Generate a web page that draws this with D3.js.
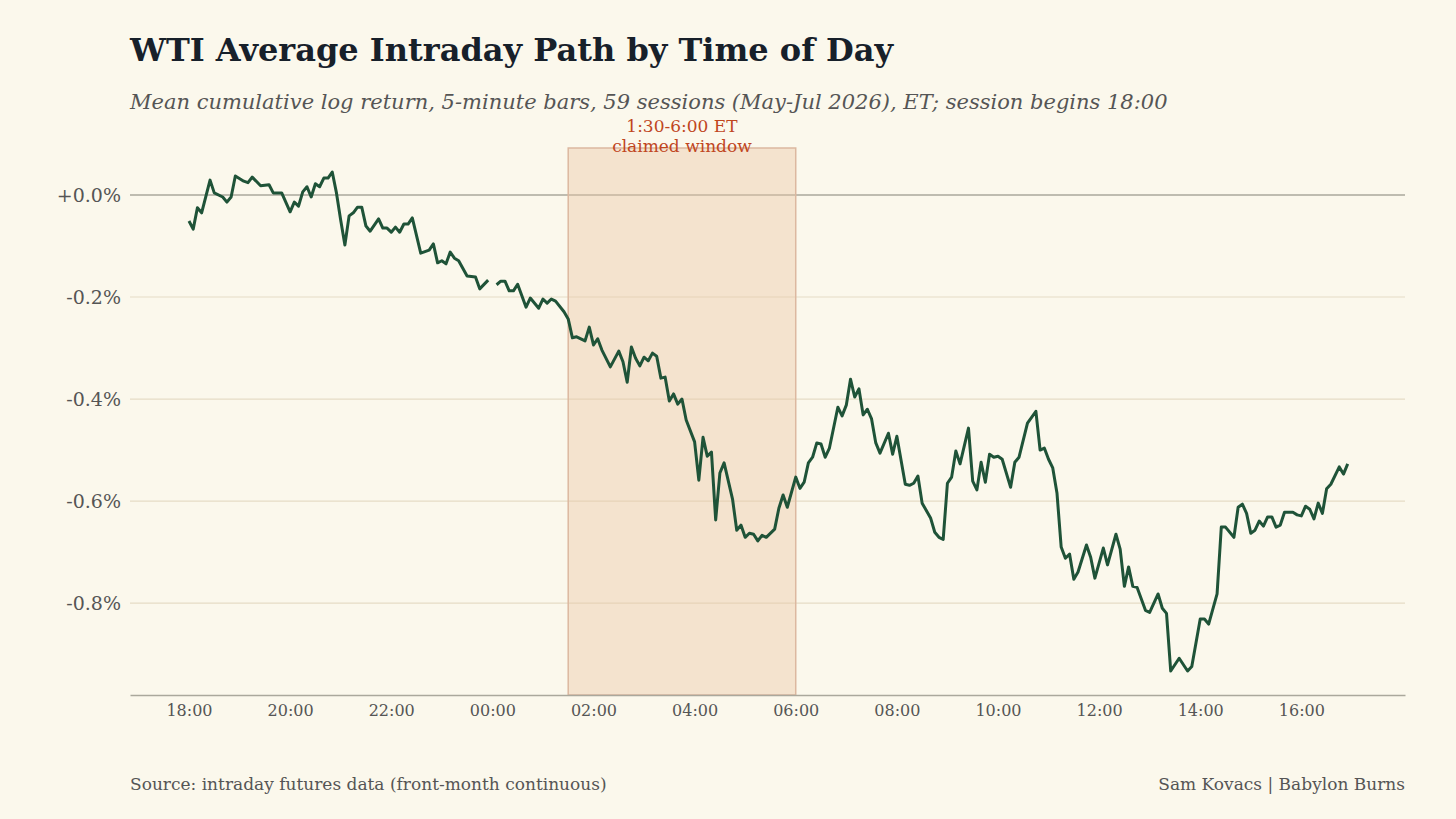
<!DOCTYPE html>
<html>
<head>
<meta charset="utf-8">
<script src="https://cdn.jsdelivr.net/npm/d3@7"></script>
<style>
  body { margin: 0; background: #fbf8ec; }
  text { font-family: "DejaVu Serif", serif; }
</style>
</head>
<body>
<svg id="chart" width="1456" height="819"></svg>
<script>
'use strict';

// 5-minute bar index after 18:00 ET (null return = gap in the data)
let barIndex = [0,1,2,3,5,6,8,9,10,11,13,14,15,17,19,20,22,24,25,26,27,28,29,30,31,32,33,34,35,36,37,38,39,40,41,42,43,45,46,47,48,49,50,51,52,53,55,57,58,59,60,61,62,63,64,66,68,69,71,72,
  73,74,75,76,77,78,80,81,83,84,85,86,87,89,90,91,92,94,95,96,97,98,100,102,103,104,105,106,107,108,109,110,111,112,113,114,115,116,117,118,120,121,122,123,124,125,126,127,129,130,131,132,133,134,135,136,137,139,140,141,142,
  144,145,146,147,148,149,150,151,152,154,155,156,157,158,159,160,161,162,163,164,166,167,168,170,171,172,173,174,176,177,178,179,180,181,182,183,185,186,187,188,189,190,191,192,193,195,196,197,199,201,202,203,204,205,206,
  207,208,209,210,211,213,214,215,217,218,220,221,222,223,224,225,227,228,230,231,232,233,235,237,238,240,241,242,244,245,246,248,249,250,251,252,253,254,255,256,257,258,259,260,262,263,264,265,266,267,268,269,270,271,273,274,275];
// mean cumulative log return, %
let meanReturn = [-0.051,-0.067,-0.025,-0.035,0.029,0.004,-0.004,-0.014,-0.004,0.037,0.027,0.024,0.035,0.018,0.020,0.004,0.004,-0.033,-0.014,-0.022,0.006,0.016,-0.004,0.022,0.016,0.033,0.033,0.045,0.004,-0.049,-0.098,-0.041,-0.035,-0.024,-0.024,-0.061,-0.071,-0.047,-0.065,-0.065,-0.073,-0.063,-0.073,-0.057,-0.057,-0.045,-0.114,-0.108,-0.096,-0.133,-0.129,-0.135,-0.112,-0.124,-0.129,-0.159,-0.161,-0.184,-0.167,null,
  -0.176,-0.169,-0.169,-0.188,-0.188,-0.175,-0.220,-0.202,-0.222,-0.204,-0.212,-0.204,-0.208,-0.229,-0.243,-0.280,-0.278,-0.286,-0.259,-0.294,-0.282,-0.304,-0.337,-0.306,-0.327,-0.367,-0.298,-0.320,-0.335,-0.318,-0.325,-0.310,-0.316,-0.359,-0.357,-0.404,-0.390,-0.410,-0.400,-0.441,-0.484,-0.559,-0.475,-0.512,-0.504,-0.637,-0.545,-0.525,-0.596,-0.657,-0.647,-0.671,-0.663,-0.665,-0.678,-0.667,-0.671,-0.655,-0.614,-0.588,-0.612,
  -0.553,-0.575,-0.563,-0.525,-0.514,-0.486,-0.488,-0.514,-0.496,-0.416,-0.433,-0.412,-0.361,-0.396,-0.380,-0.431,-0.420,-0.439,-0.486,-0.506,-0.467,-0.508,-0.473,-0.567,-0.569,-0.565,-0.551,-0.604,-0.633,-0.661,-0.671,-0.675,-0.565,-0.553,-0.502,-0.527,-0.457,-0.561,-0.578,-0.524,-0.563,-0.508,-0.514,-0.512,-0.518,-0.573,-0.524,-0.514,-0.447,-0.424,-0.500,-0.496,-0.518,-0.535,-0.584,
  -0.690,-0.712,-0.704,-0.753,-0.739,-0.686,-0.710,-0.751,-0.692,-0.725,-0.665,-0.694,-0.767,-0.729,-0.767,-0.769,-0.814,-0.818,-0.782,-0.810,-0.820,-0.933,-0.908,-0.933,-0.924,-0.831,-0.831,-0.841,-0.782,-0.651,-0.651,-0.671,-0.612,-0.606,-0.624,-0.663,-0.657,-0.639,-0.649,-0.631,-0.631,-0.651,-0.647,-0.622,-0.622,-0.627,-0.629,-0.610,-0.616,-0.635,-0.604,-0.624,-0.576,-0.567,-0.533,-0.547,-0.527];

let xTickLabels = ['18:00','20:00','22:00','00:00','02:00','04:00','06:00','08:00','10:00','12:00','14:00','16:00'];
let yTickValues = [0,-0.2,-0.4,-0.6,-0.8];
let windowStart = 7.5;  // hours after 18:00 (01:30)
let windowEnd = 12;     // 06:00

// Formatting
let bg = '#fbf8ec';
let lineColor = '#1f5338';
let gridColor = '#e6dcc6';
let textColor = '#555555';
let accent = '#c0461e';

let plot = {left: 130, right: 1405, top: 148, bottom: 695};

let svg = d3.select('#chart');
svg.append('rect').attr('width',1456).attr('height',819).attr('fill',bg);

let xScale = d3.scaleLinear()
  .domain([-70/60, 1443/60])
  .range([plot.left, plot.right]);
let yScale = d3.scaleLinear()
  .domain([0.092, -0.98])
  .range([plot.top, plot.bottom]);

// gridlines
svg.append('g')
  .selectAll('line')
  .data(yTickValues)
  .enter()
  .append('line')
  .attr('x1',plot.left).attr('x2',plot.right)
  .attr('y1',d => yScale(d)).attr('y2',d => yScale(d))
  .attr('stroke',d => d === 0 ? '#aaa89c' : gridColor)
  .attr('stroke-width',d => d === 0 ? 1.6 : 1.2);

// claimed window
svg.append('rect')
  .attr('x',xScale(windowStart))
  .attr('y',plot.top)
  .attr('width',xScale(windowEnd)-xScale(windowStart))
  .attr('height',plot.bottom-plot.top)
  .attr('fill','#e9c6a4').attr('fill-opacity',0.42)
  .attr('stroke','#dcb8a0').attr('stroke-width',1.5);

let midX = (xScale(windowStart)+xScale(windowEnd))/2;
svg.append('text').attr('x',midX).attr('y',132).attr('text-anchor','middle')
  .attr('fill',accent).style('font-size','17px').text('1:30-6:00 ET');
svg.append('text').attr('x',midX).attr('y',152).attr('text-anchor','middle')
  .attr('fill',accent).style('font-size','17px').text('claimed window');

// y axis labels
let yAxis = d3.axisLeft(yScale)
  .tickValues(yTickValues)
  .tickSize(0)
  .tickFormat(d => (d >= 0 ? '+' : '') + d.toFixed(1) + '%');
let gy = svg.append('g').attr('transform',`translate(${plot.left-6},0)`).call(yAxis);
gy.select('.domain').remove();
gy.selectAll('text').attr('fill',textColor).style('font-size','19px').style('font-family','"DejaVu Serif", serif');

// x axis
let xAxis = d3.axisBottom(xScale)
  .tickValues(xTickLabels.map((d,i) => i*2))
  .tickSize(0)
  .tickPadding(10)
  .tickFormat((d,i) => xTickLabels[i]);
let gx = svg.append('g').attr('transform',`translate(0,${plot.bottom})`).call(xAxis);
gx.select('.domain').attr('stroke','#aaa89c').attr('stroke-width',1.5);
gx.selectAll('text').attr('fill',textColor).style('font-size','16px').style('font-family','"DejaVu Serif", serif');

// line
let points = barIndex.map((b,i) => ({h: b*5/60, v: meanReturn[i]}));
let line = d3.line()
  .defined(d => d.v !== null)
  .x(d => xScale(d.h))
  .y(d => yScale(d.v));
svg.append('path')
  .datum(points)
  .attr('d',line)
  .attr('fill','none')
  .attr('stroke',lineColor)
  .attr('stroke-width',3)
  .attr('stroke-linejoin','round');

// titles
svg.append('text').attr('x',130).attr('y',61)
  .attr('fill','#17202a').style('font-size','32px').style('font-weight','bold')
  .text('WTI Average Intraday Path by Time of Day');
svg.append('text').attr('x',130).attr('y',109)
  .attr('fill',textColor).style('font-size','21px').style('font-style','italic')
  .text('Mean cumulative log return, 5-minute bars, 59 sessions (May-Jul 2026), ET; session begins 18:00');

svg.append('text').attr('x',130).attr('y',790)
  .attr('fill',textColor).style('font-size','17px')
  .text('Source: intraday futures data (front-month continuous)');
svg.append('text').attr('x',1405).attr('y',790).attr('text-anchor','end')
  .attr('fill',textColor).style('font-size','17px')
  .text('Sam Kovacs | Babylon Burns');
</script>
</body>
</html>
